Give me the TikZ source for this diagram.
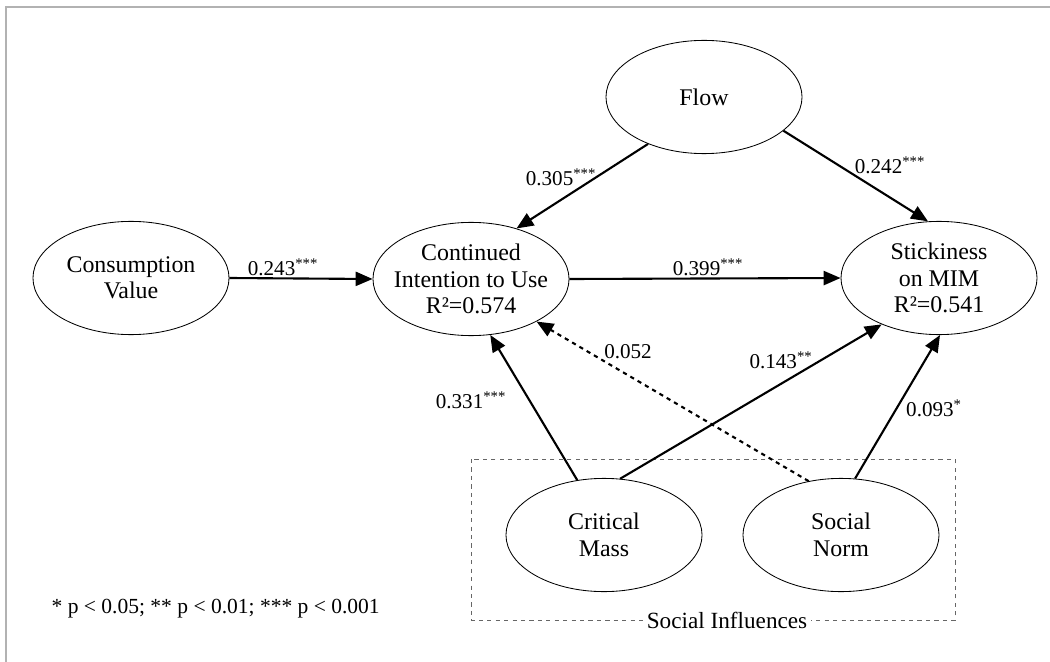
\documentclass[tikz,border=0pt]{standalone}
\usepackage{fontspec}
\setmainfont{Liberation Serif}
\usepackage{tikz}
\usetikzlibrary{positioning,arrows.meta,shapes.geometric}

\tikzset{
  construct/.style={ellipse,draw,line width=0.6pt,minimum width=4.9cm,minimum height=2.83cm,
    inner sep=-12pt,align=center,font=\fontsize{17}{18.8}\selectfont},
  path/.style={line width=1.5pt,-{Triangle[length=12pt,width=10pt]}},
  coef/.style={font=\fontsize{15}{17}\selectfont,inner sep=1pt}
}

\begin{document}
\begin{tikzpicture}[x=0.025cm,y=-0.025cm]
\useasboundingbox (0,0) rectangle (1050,662);
\draw[gray!60,line width=1.4pt] (6,662) -- (6,7) -- (1050,7);

% constructs
\node[construct] (flow) at (704,97) {Flow};
\node[construct] (cv) at (131,278) {Consumption\\Value};
\node[construct] (ciu) at (471,279) {Continued\\Intention to Use\\R²=0.574};
\node[construct] (stick) at (939,278) {Stickiness\\on MIM\\R²=0.541};
\node[construct] (cm) at (604,535) {Critical\\Mass};
\node[construct] (sn) at (841,535) {Social\\Norm};

% social influences box
\draw[dashed,gray!80!black,line width=0.6pt] (471,459) rectangle (955,620);
\node[fill=white,font=\fontsize{16.5}{18}\selectfont,inner sep=3pt] (si) at (727,620) {Social Influences};

% paths
\draw[path] (cv.east) -- (ciu.west);
\draw[path] (ciu.east) -- (stick.west);
\draw[path] (flow.220) -- (ciu.48);
\draw[path] (flow.337) -- (stick.101);
\draw[path] (cm.116) -- (ciu.289);
\draw[path] (cm.74) -- (stick.219);
\draw[path] (sn.76) -- (stick.271);
\draw[path,dashed] (sn.121) -- (ciu.327);

% coefficients
\node[coef] (c1) at (283,267) {0.243\textsuperscript{***}};
\node[coef] (c2) at (708,267) {0.399\textsuperscript{***}};
\node[coef] (c3) at (561,177) {0.305\textsuperscript{***}};
\node[coef] (c4) at (890,165) {0.242\textsuperscript{***}};
\node[coef] (c5) at (471,400) {0.331\textsuperscript{***}};
\node[coef] (c6) at (628,352) {0.052};
\node[coef] (c7) at (781,360) {0.143\textsuperscript{**}};
\node[coef] (c8) at (934,408) {0.093\textsuperscript{*}};

\node[coef,anchor=west,font=\fontsize{15.3}{17}\selectfont] (note) at (50,609) {* p < 0.05; ** p < 0.01; *** p < 0.001};
\end{tikzpicture}
\end{document}
